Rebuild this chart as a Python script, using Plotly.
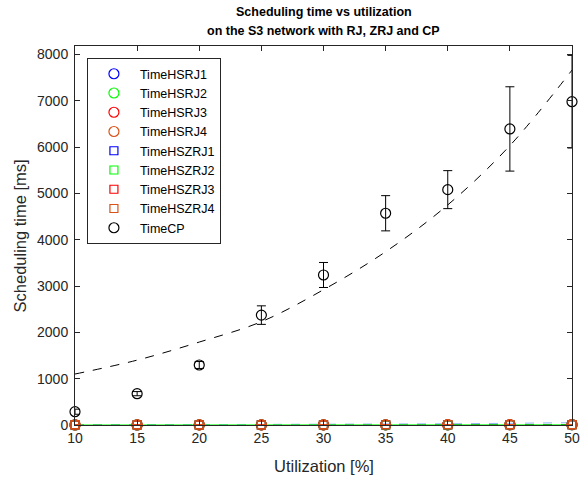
import plotly.graph_objects as go

# ---- data ----
util = [10, 15, 20, 25, 30, 35, 40, 45, 50]

time_cp = [287, 676, 1295, 2372, 3238, 4570, 5080, 6390, 6978]
time_cp_err = [55, 45, 75, 200, 270, 380, 410, 910, 1000]
time_cp_fit = [1100, 1400, 1790, 2230, 2920, 3740, 4750, 6030, 7660]

time_hsrj1 = [1, 1, 2, 2, 3, 3, 4, 5, 6]
time_hsrj2 = [1, 1, 2, 2, 3, 3, 4, 5, 6]
time_hsrj3 = [2, 2, 3, 3, 4, 5, 6, 7, 8]
time_hsrj3_err = [1, 1, 1, 1, 2, 2, 2, 3, 3]
time_hsrj4 = [2, 2, 3, 3, 4, 5, 6, 7, 8]
time_hsrj4_err = [1, 1, 1, 1, 2, 2, 2, 3, 3]
time_hszrj1 = [1, 1, 2, 2, 3, 3, 4, 5, 6]
time_hszrj2 = [1, 1, 2, 2, 3, 3, 4, 5, 6]
time_hszrj3 = [2, 2, 3, 3, 4, 5, 6, 7, 8]
time_hszrj3_err = [1, 1, 1, 1, 2, 2, 2, 3, 3]
time_hszrj4 = [2, 2, 3, 3, 4, 5, 6, 7, 8]
time_hszrj4_err = [1, 1, 1, 1, 2, 2, 2, 3, 3]

fit_blue = [0, 2, 4, 8, 12, 18, 26, 36, 50]
fit_green = [0, 0, 1, 1, 1, 2, 2, 3, 3]
fit_black = [0, 1, 1, 2, 2, 3, 3, 4, 5]

tick_x = [10, 15, 20, 25, 30, 35, 40, 45, 50]
tick_y = [0, 1000, 2000, 3000, 4000, 5000, 6000, 7000, 8000]

BLUE = "#0000FF"
GREEN = "#00FF00"
RED = "#FF0000"
ORANGE = "#D95319"
AX = "#262626"

fig = go.Figure()

# near-zero fit lines (not in legend)
fig.add_trace(go.Scatter(x=util, y=fit_black, mode="lines", showlegend=False,
                         line=dict(color="black", width=1, dash="dash")))
fig.add_trace(go.Scatter(x=util, y=fit_blue, mode="lines", showlegend=False,
                         line=dict(color="#8FB3F0", width=1, dash="dash")))
fig.add_trace(go.Scatter(x=util, y=fit_green, mode="lines", showlegend=False,
                         line=dict(color=GREEN, width=1)))


def mk(name, y, color, symbol, size, err=None):
    kw = {}
    if err is not None:
        kw["error_y"] = dict(type="data", array=err, visible=True, color=color,
                             thickness=1, width=4.5)
    fig.add_trace(go.Scatter(
        x=util, y=y, mode="markers", name=name, cliponaxis=False,
        marker=dict(symbol=symbol, size=size, color=color,
                    line=dict(color=color, width=1.2)),
        **kw))


mk("TimeHSRJ1", time_hsrj1, BLUE, "circle-open", 10)
mk("TimeHSRJ2", time_hsrj2, GREEN, "circle-open", 10)
mk("TimeHSRJ3", time_hsrj3, RED, "circle-open", 10, time_hsrj3_err)
mk("TimeHSRJ4", time_hsrj4, ORANGE, "circle-open", 10, time_hsrj4_err)
mk("TimeHSZRJ1", time_hszrj1, BLUE, "square-open", 8)
mk("TimeHSZRJ2", time_hszrj2, GREEN, "square-open", 8)
mk("TimeHSZRJ3", time_hszrj3, RED, "square-open", 8, time_hszrj3_err)
mk("TimeHSZRJ4", time_hszrj4, ORANGE, "square-open", 8, time_hszrj4_err)

# CP fit line
fig.add_trace(go.Scatter(x=util, y=time_cp_fit, mode="lines", showlegend=False,
                         line=dict(color="black", width=1, dash="dash", shape="spline")))
mk("TimeCP", time_cp, "black", "circle-open", 10, time_cp_err)

font = "Liberation Sans, Arial, sans-serif"

fig.update_layout(
    width=585, height=478,
    margin=dict(l=75, r=13, t=46, b=53, autoexpand=False),
    plot_bgcolor="white", paper_bgcolor="white",
    font=dict(family=font, size=13, color=AX),
    showlegend=True,
    legend=dict(x=0.024, y=0.968, xanchor="left", yanchor="top",
                bgcolor="white", bordercolor=AX, borderwidth=1,
                font=dict(family=font, size=12.5, color="black"),
                itemwidth=42, tracegroupgap=0),
    annotations=[
        dict(text="<b>Scheduling time vs utilization</b>", x=0.5, y=1.0897,
             xref="paper", yref="paper", xanchor="center", yanchor="middle",
             showarrow=False, font=dict(family=font, size=12.5, color="black")),
        dict(text="<b>on the S3 network with RJ, ZRJ and CP</b>", x=0.5, y=1.0396,
             xref="paper", yref="paper", xanchor="center", yanchor="middle",
             showarrow=False, font=dict(family=font, size=12.5, color="black")),
        dict(text="Utilization [%]", x=0.5, y=-0.108,
             xref="paper", yref="paper", xanchor="center", yanchor="middle",
             showarrow=False, font=dict(family=font, size=16.5, color=AX)),
        dict(text="Scheduling time [ms]", x=-0.1107, y=0.5, textangle=-90,
             xref="paper", yref="paper", xanchor="center", yanchor="middle",
             showarrow=False, font=dict(family=font, size=16.5, color=AX)),
    ],
)

fig.update_xaxes(
    range=[10, 50], tickvals=tick_x, ticktext=[str(v) for v in tick_x],
    ticks="inside", ticklen=5, tickwidth=1, tickcolor=AX,
    showline=True, linecolor=AX, linewidth=1, mirror="ticks",
    showgrid=False, zeroline=False, automargin=False,
    tickfont=dict(size=14, color=AX),
)
fig.update_yaxes(
    range=[0, 8180], tickvals=tick_y, ticktext=[str(v) for v in tick_y],
    ticks="inside", ticklen=5, tickwidth=1, tickcolor=AX,
    showline=True, linecolor=AX, linewidth=1, mirror="ticks",
    showgrid=False, zeroline=False, automargin=False,
    tickfont=dict(size=14, color=AX), ticklabelstandoff=3,
)

fig.write_html("out.html")
